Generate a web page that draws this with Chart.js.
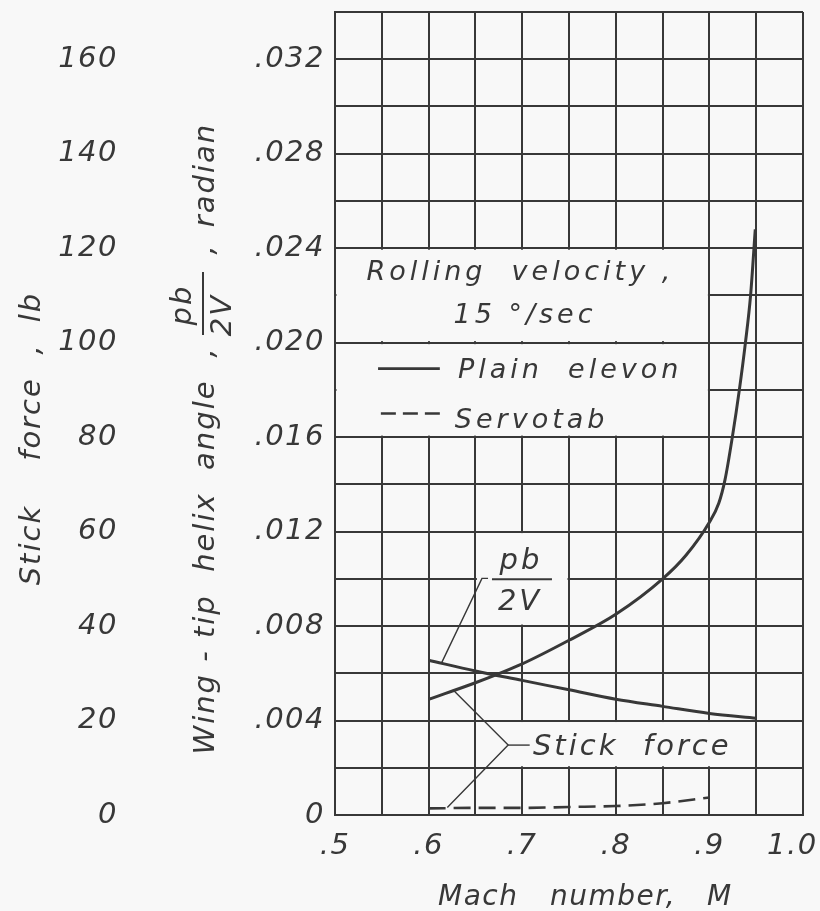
<!DOCTYPE html>
<html>
<head>
<meta charset="utf-8">
<script src="https://cdn.jsdelivr.net/npm/chart.js@4.4.1/dist/chart.umd.min.js"></script>
<style>
    html, body { margin: 0; padding: 0; background: #f8f8f8; }
    #wrap { width: 820px; height: 911px; }
</style>
</head>
<body>
<div id="wrap"><canvas id="rollChart" width="820" height="911"></canvas></div>
<script>
const FONT_FAMILY = '"DejaVu Sans", "Liberation Sans", sans-serif';
const INK = "#383838";
const PAPER = "#f8f8f8";

// tick labels
const machTicks = [0.5, 0.6, 0.7, 0.8, 0.9, 1.0];
const pbTicks = [0, 0.004, 0.008, 0.012, 0.016, 0.020, 0.024, 0.028, 0.032];
const forceTicks = [0, 20, 40, 60, 80, 100, 120, 140, 160];

// wing-tip helix angle pb/2V (radian), 15 deg/sec rolling velocity
const pbMach = [0.6, 0.65, 0.7, 0.75, 0.8, 0.85, 0.9, 0.95];
const pbValues = [0.00655, 0.0061, 0.0057, 0.0053, 0.0049, 0.0046, 0.0043, 0.0041];

// stick force (lb), plain elevon
const plainMach = [0.6, 0.65, 0.7, 0.75, 0.8, 0.85, 0.875, 0.9, 0.91, 0.9167, 0.9245, 0.932, 0.9385, 0.944, 0.949];
const plainForce = [24.5, 28, 32, 37, 42.5, 50, 55, 62, 66, 71, 80, 90, 100, 110, 124];

// stick force (lb), servotab
const servoMach = [0.6, 0.65, 0.7, 0.75, 0.8, 0.85, 0.9];
const servoForce = [1.4, 1.5, 1.5, 1.7, 1.9, 2.5, 3.7];

function toPoints(xs, ys) {
    return xs.map((x, i) => ({ x: x, y: ys[i] }));
}

function near(list, v) {
    return list.find((t) => Math.abs(t - v) < 1e-7);
}

function letter(ctx, str, x, y, size, align, spacing) {
    ctx.save();
    ctx.font = "italic " + size + "px " + FONT_FAMILY;
    ctx.letterSpacing = spacing + "px";
    ctx.fillStyle = INK;
    ctx.textAlign = align;
    ctx.textBaseline = "alphabetic";
    ctx.fillText(str, x, y);
    ctx.restore();
}

function stroke(ctx, pts, width, dash) {
    ctx.save();
    ctx.strokeStyle = INK;
    ctx.lineWidth = width;
    ctx.setLineDash(dash || []);
    ctx.beginPath();
    pts.forEach((p, i) => (i ? ctx.lineTo(p[0], p[1]) : ctx.moveTo(p[0], p[1])));
    ctx.stroke();
    ctx.restore();
}

// fixed axis sizes, no automatic label padding
function fixSize(w, h) {
    return (s) => {
        if (w) s.width = w;
        if (h) s.height = h;
        s.paddingTop = 0;
        s.paddingBottom = 0;
        s.paddingLeft = 0;
        s.paddingRight = 0;
    };
}

const paperNotes = {
    id: "paperNotes",
    beforeUpdate(chart) {
        chart.ctx.letterSpacing = "1.5px";
    },
    beforeDraw(chart) {
        const ctx = chart.ctx;
        ctx.letterSpacing = "1.5px";
        ctx.save();
        ctx.fillStyle = PAPER;
        ctx.fillRect(0, 0, chart.width, chart.height);
        ctx.restore();
    },
    beforeDatasetsDraw(chart) {
        // blank out the grid behind the lettered blocks
        const ctx = chart.ctx;
        const sx = chart.scales.x;
        const sy = chart.scales.yPb;
        const boxes = [
            [0.5, 0.9, 0.020, 0.024],
            [0.5, 0.9, 0.016, 0.020],
            [0.65, 0.75, 0.008, 0.012],
            [0.65, 0.95, 0.002, 0.004],
        ];
        ctx.save();
        ctx.fillStyle = PAPER;
        boxes.forEach((b) => {
            const l = sx.getPixelForValue(b[0]) + 1.5;
            const r = sx.getPixelForValue(b[1]) - 1.5;
            const t = sy.getPixelForValue(b[3]) + 1.5;
            const btm = sy.getPixelForValue(b[2]) - 1.5;
            ctx.fillRect(l, t, r - l, btm - t);
        });
        ctx.restore();
    },
    afterDatasetsDraw(chart) {
        const ctx = chart.ctx;
        const X = (v) => chart.scales.x.getPixelForValue(v);
        const Y = (v) => chart.scales.yPb.getPixelForValue(v);

        // key block
        letter(ctx, "Rolling  velocity ,", X(0.698), Y(0.02266), 27, "center", 4);
        letter(ctx, "15 \u00b0/sec", X(0.703), Y(0.02084), 27, "center", 4);
        stroke(ctx, [[X(0.546), Y(0.0189)], [X(0.612), Y(0.0189)]], 2.6);
        letter(ctx, "Plain  elevon", X(0.6314), Y(0.01852), 27, "left", 4);
        stroke(ctx, [[X(0.549), Y(0.0170)], [X(0.612), Y(0.0170)]], 2.6, [15, 7]);
        letter(ctx, "Servotab", X(0.628), Y(0.0164), 27, "left", 4);

        // pb/2V label and leader
        stroke(ctx, [[X(0.614), Y(0.00645)], [X(0.657), Y(0.01002)], [X(0.6635), Y(0.01002)]], 1.4);
        stroke(ctx, [[X(0.6677), Y(0.00998)], [X(0.7318), Y(0.00998)]], 2);
        letter(ctx, "pb", X(0.6987), Y(0.0104), 29, "center", 3);
        letter(ctx, "2V", X(0.6977), Y(0.00867), 29, "center", 3);

        // stick force label and bracket
        stroke(ctx, [[X(0.626), Y(0.0053)], [X(0.685), Y(0.00296)], [X(0.62), Y(0.00032)]], 1.4);
        stroke(ctx, [[X(0.685), Y(0.00296)], [X(0.708), Y(0.00296)]], 1.4);
        letter(ctx, "Stick  force", X(0.7115), Y(0.00254), 29, "left", 3);
    },
    afterDraw(chart) {
        const ctx = chart.ctx;
        const area = chart.chartArea;

        // x title
        const base = chart.height - 6;
        letter(ctx, "Mach", area.left + 103, base, 28, "left", 1.5);
        letter(ctx, "number,", area.left + 215, base, 28, "left", 1.5);
        letter(ctx, "M", area.left + 372, base, 28, "left", 1.5);

        // stick force title (outer axis)
        ctx.save();
        ctx.translate(40, 438);
        ctx.rotate(-Math.PI / 2);
        letter(ctx, "Stick", -107, 0, 29, "center", 2);
        letter(ctx, "force", 19, 0, 29, "center", 2);
        letter(ctx, ",", 88, 0, 29, "center", 0);
        letter(ctx, "lb", 131, 0, 29, "center", 2);
        ctx.restore();

        // helix angle title (inner axis)
        ctx.save();
        ctx.translate(214, 441);
        ctx.rotate(-Math.PI / 2);
        letter(ctx, "Wing - tip  helix  angle", -126, 0, 29, "center", 2);
        letter(ctx, ",", 88, 0, 29, "center", 0);
        stroke(ctx, [[106, -11], [169, -11]], 2);
        letter(ctx, "pb", 136, -23, 29, "center", 2);
        letter(ctx, "2V", 126, 17, 29, "center", 2);
        letter(ctx, ",", 191, 0, 29, "center", 0);
        letter(ctx, "radian", 266, 0, 29, "center", 2);
        ctx.restore();
    },
};

let rollChart;

function plotRollChart() {
    const ctx = document.getElementById("rollChart").getContext("2d");
    const tickFont = { family: FONT_FAMILY, size: 29, style: "italic" };
    rollChart = new Chart(ctx, {
        type: "line",
        data: {
            datasets: [
                {
                    label: "pb/2V",
                    data: toPoints(pbMach, pbValues),
                    yAxisID: "yPb",
                    borderColor: INK,
                    borderWidth: 3,
                    pointRadius: 0,
                    cubicInterpolationMode: "monotone",
                },
                {
                    label: "Stick force, plain elevon",
                    data: toPoints(plainMach, plainForce),
                    yAxisID: "yForce",
                    borderColor: INK,
                    borderWidth: 3,
                    pointRadius: 0,
                    cubicInterpolationMode: "monotone",
                },
                {
                    label: "Stick force, servotab",
                    data: toPoints(servoMach, servoForce),
                    yAxisID: "yForce",
                    borderColor: INK,
                    borderWidth: 2.6,
                    borderDash: [17, 8],
                    pointRadius: 0,
                    cubicInterpolationMode: "monotone",
                },
            ],
        },
        options: {
            responsive: false,
            animation: false,
            layout: { autoPadding: false, padding: { top: 12, right: 17, left: 0, bottom: 0 } },
            plugins: { legend: { display: false }, tooltip: { enabled: false } },
            scales: {
                x: {
                    type: "linear",
                    min: 0.5,
                    max: 1.0,
                    ticks: {
                        stepSize: 0.05,
                        autoSkip: false,
                        maxRotation: 0,
                        padding: 14,
                        color: INK,
                        font: tickFont,
                        callback: (v) => {
                            const t = near(machTicks, v);
                            if (t === undefined) return "";
                            return t === 1 ? "1.0  " : "." + Math.round(t * 10);
                        },
                    },
                    grid: { color: INK, lineWidth: 2, drawTicks: false },
                    border: { color: INK, width: 2 },
                    afterFit: fixSize(0, 96),
                },
                yPb: {
                    position: "left",
                    weight: 0,
                    min: 0,
                    max: 0.034,
                    ticks: {
                        stepSize: 0.002,
                        autoSkip: false,
                        padding: 10,
                        color: INK,
                        font: tickFont,
                        callback: (v) => {
                            const t = near(pbTicks, v);
                            if (t === undefined) return "";
                            return t === 0 ? "0" : t.toFixed(3).replace("0.", ".");
                        },
                    },
                    grid: { color: INK, lineWidth: 2, drawTicks: false },
                    border: { color: INK, width: 2 },
                    afterFit: fixSize(210, 0),
                },
                yForce: {
                    position: "left",
                    weight: 1,
                    min: 0,
                    max: 170,
                    ticks: {
                        stepSize: 20,
                        autoSkip: false,
                        padding: 7,
                        color: INK,
                        font: tickFont,
                        callback: (v) => {
                            const t = near(forceTicks, v);
                            return t === undefined ? "" : String(t);
                        },
                    },
                    grid: { display: false, drawTicks: false },
                    border: { display: false },
                    afterFit: fixSize(125, 0),
                },
            },
        },
        plugins: [paperNotes],
    });
}

document.addEventListener("DOMContentLoaded", () => {
    plotRollChart();
});
</script>
</body>
</html>
